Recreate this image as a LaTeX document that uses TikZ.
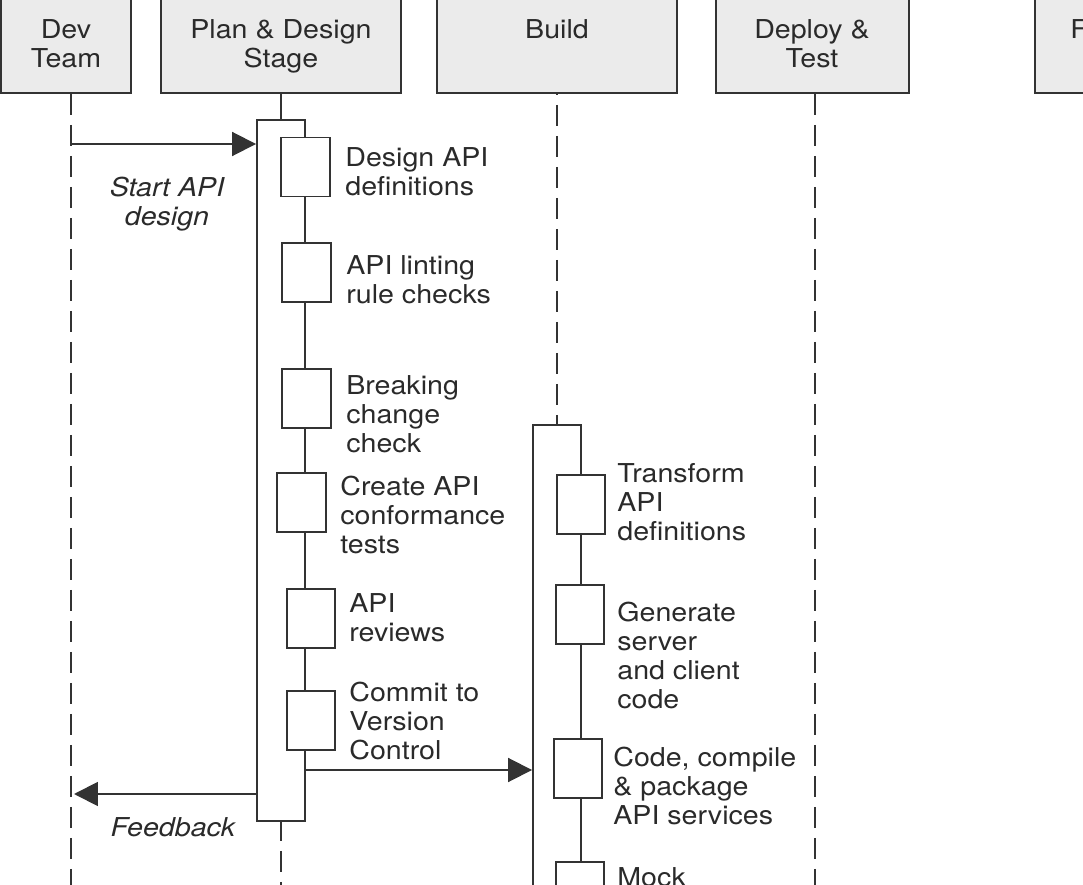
\documentclass[tikz,border=0pt]{standalone}
\usepackage{fontspec}
\setmainfont{TeX Gyre Heros}[FakeStretch=1.1]
\usetikzlibrary{arrows.meta,positioning}

\definecolor{linegray}{HTML}{333333}
\definecolor{textgray}{HTML}{2A2A2A}
\definecolor{headgray}{HTML}{EBEBEB}

\tikzset{
  head/.style={draw=linegray, fill=headgray, line width=1.2pt, minimum height=2.6cm, anchor=south},
  headtext/.style={align=center, inner sep=0pt, anchor=north},
  act/.style={draw=linegray, fill=white, line width=1.1pt, minimum width=0.96cm, anchor=north},
  stepbox/.style={draw=linegray, fill=white, line width=1.1pt, minimum width=0.97cm, minimum height=1.18cm, inner sep=0pt},
  steptext/.style={align=left, inner sep=0pt, anchor=north west},
  life/.style={draw=linegray, line width=1.1pt, dash pattern=on 0.42cm off 0.2cm},
  msg/.style={draw=linegray, line width=1.1pt, -{Triangle[length=0.48cm, width=0.48cm]}},
  msgtext/.style={font=\itshape, align=center, inner sep=0pt, anchor=north},
}

\begin{document}
\fontsize{14.8}{16.5}\selectfont
\begin{tikzpicture}[x=0.02cm, y=-0.02cm, every node/.append style={text=textgray}]
  \useasboundingbox (0,0) rectangle (1083,885);
  \clip (0,0) rectangle (1083,885);

  % stage headers
  \node[head, minimum width=2.6cm] (dev) at (66,94) {};
  \node[head, minimum width=4.8cm] (plan) at (281,94) {};
  \node[head, minimum width=4.8cm] (build) at (557,94) {};
  \node[head, minimum width=3.86cm] (deploy) at (812.5,94) {};
  \node[head, minimum width=3.86cm, anchor=south west] (fifth) at (1034,94) {};

  \node[headtext] (devlbl) at (66,19) {Dev\\Team};
  \node[headtext] (planlbl) at (281,19) {Plan \& Design\\Stage};
  \node[headtext] (buildlbl) at (557,19) {Build};
  \node[headtext] (deploylbl) at (812,19) {Deploy \&\\Test};
  \node[headtext, anchor=north west] (fifthlbl) at (1070,19) {F};

  % lifelines
  \coordinate (devend) at (71,885);
  \coordinate (planend) at (281,885);
  \coordinate (deployend) at (815,885);
  \draw[life] (devend |- dev.south) -- (devend);
  \draw[life] (deployend |- deploy.south) -- (deployend);
  \draw[life] (planend |- 0,820) -- (planend);

  % activations
  \node[act, minimum height=14.02cm] (planact) at (281,119) {};
  \node[act, minimum height=12cm] (buildact) at (557,424) {};
  \draw[draw=linegray, line width=1.1pt] (plan.south) -- (planact.north);
  \draw[life, dash phase=0.4cm] (build.south) -- (buildact.north);

  % plan and design steps
  \node[stepbox] (s1) at (305.5,167) {};
  \node[stepbox] (s2) at (306.5,272.5) {};
  \node[stepbox] (s3) at (306.5,398.5) {};
  \node[stepbox] (s4) at (301.5,502.5) {};
  \node[stepbox] (s5) at (311,618.5) {};
  \node[stepbox] (s6) at (311,720.5) {};

  \node[steptext] (t1) at (345,147) {Design API\\definitions};
  \node[steptext] (t2) at (346,255) {API linting\\rule checks};
  \node[steptext] (t3) at (346,375) {Breaking\\change\\check};
  \node[steptext] (t4) at (340,476) {Create API\\conformance\\tests};
  \node[steptext] (t5) at (349,593) {API\\reviews};
  \node[steptext] (t6) at (349,682) {Commit to\\Version\\Control};

  % build steps
  \node[stepbox] (b1) at (581,504.5) {};
  \node[stepbox] (b2) at (580,614.5) {};
  \node[stepbox] (b3) at (578,768.5) {};
  \node[stepbox] (b4) at (580,891.5) {};

  \node[steptext] (u1) at (617,463) {Transform\\API\\definitions};
  \node[steptext] (u2) at (617,602) {Generate\\server\\and client\\code};
  \node[steptext] (u3) at (613,747) {Code, compile\\\& package\\API services};
  \node[steptext] (u4) at (617,867) {Mock};

  % messages
  \coordinate (startpt) at (71,144);
  \coordinate (commitpt) at (305,770);
  \coordinate (feedpt) at (74,794);
  \draw[msg] (startpt) -- (startpt -| planact.west);
  \draw[msg] (commitpt) -- (commitpt -| buildact.west);
  \draw[msg] (feedpt -| planact.west) -- (feedpt);

  \node[msgtext] (startlbl) at (167,177) {Start API\\design};
  \node[msgtext] (feedlbl) at (173,817) {Feedback};
\end{tikzpicture}
\end{document}
